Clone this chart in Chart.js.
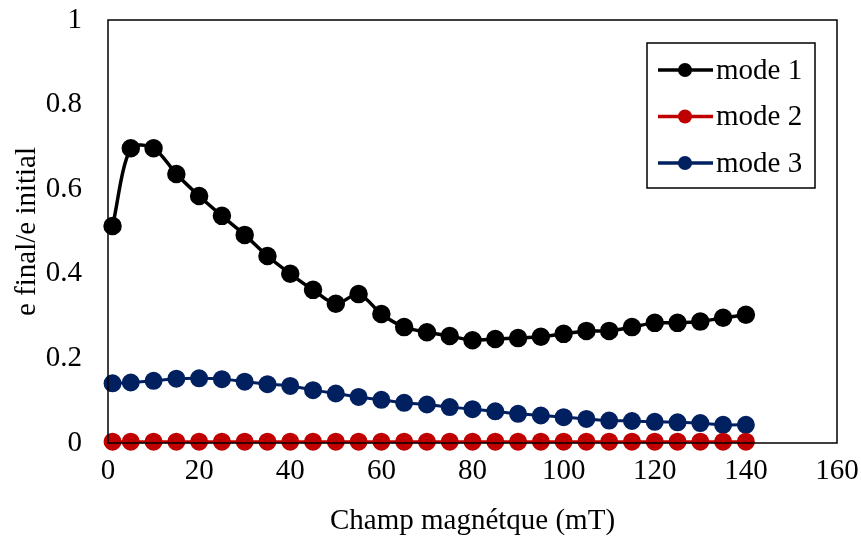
<!DOCTYPE html>
<html>
<head>
<meta charset="utf-8">
<script src="https://cdn.jsdelivr.net/npm/chart.js@4/dist/chart.umd.min.js"></script>
<style>
  html, body { margin: 0; padding: 0; background: #fff; }
  #wrap { width: 861px; height: 536px; }
</style>
</head>
<body>
<div id="wrap"><canvas id="chart" width="861" height="536"></canvas></div>
<script>
// Data
const fieldValues = [1, 5, 10, 15, 20, 25, 30, 35, 40, 45, 50, 55, 60, 65, 70, 75, 80, 85, 90, 95, 100, 105, 110, 115, 120, 125, 130, 135, 140];
const mode1 = [0.513, 0.697, 0.697, 0.636, 0.584, 0.537, 0.492, 0.442, 0.400, 0.362, 0.329, 0.352, 0.305, 0.274, 0.262, 0.253, 0.243, 0.246, 0.248, 0.251, 0.258, 0.265, 0.265, 0.274, 0.284, 0.284, 0.287, 0.296, 0.303];
const mode2 = [0.003, 0.003, 0.003, 0.003, 0.003, 0.003, 0.003, 0.003, 0.003, 0.003, 0.003, 0.003, 0.003, 0.003, 0.003, 0.003, 0.003, 0.003, 0.003, 0.003, 0.003, 0.003, 0.003, 0.003, 0.003, 0.003, 0.003, 0.003, 0.003];
const mode3 = [0.141, 0.143, 0.147, 0.152, 0.153, 0.151, 0.145, 0.139, 0.135, 0.125, 0.117, 0.109, 0.102, 0.095, 0.091, 0.085, 0.080, 0.075, 0.069, 0.065, 0.061, 0.057, 0.053, 0.052, 0.050, 0.049, 0.047, 0.043, 0.043];
const seriesLabels = ["mode 1", "mode 2", "mode 3"];
const seriesColors = ["#000000", "#C00000", "#002060"];
const xTitle = "Champ magnétque (mT)";
const yTitle = "e final/e initial";

const FONT = "'Liberation Serif', 'Times New Roman', serif";
const FONT_SIZE = 29;

function toPoints(values) {
  return values.map((v, i) => ({ x: fieldValues[i], y: v }));
}

// Frame around the plot area
const framePlugin = {
  id: "frame",
  afterDraw(chart) {
    const a = chart.chartArea;
    const ctx = chart.ctx;
    ctx.save();
    ctx.strokeStyle = "#000";
    ctx.lineWidth = 1.5;
    ctx.strokeRect(a.left, a.top, a.right - a.left, a.bottom - a.top);
    ctx.restore();
  },
};

// Boxed legend inside the plot area
const boxLegendPlugin = {
  id: "boxLegend",
  afterDraw(chart) {
    const ctx = chart.ctx;
    const x0 = 647, y0 = 43, w = 168, h = 145;
    ctx.save();
    ctx.fillStyle = "#fff";
    ctx.fillRect(x0, y0, w, h);
    ctx.strokeStyle = "#000";
    ctx.lineWidth = 1.5;
    ctx.strokeRect(x0, y0, w, h);
    chart.data.datasets.forEach((ds, i) => {
      const y = 70 + i * 46.5;
      ctx.strokeStyle = ds.borderColor;
      ctx.lineWidth = 3.5;
      ctx.beginPath();
      ctx.moveTo(658, y);
      ctx.lineTo(713, y);
      ctx.stroke();
      ctx.fillStyle = ds.backgroundColor;
      ctx.beginPath();
      ctx.arc(685, y, 7, 0, Math.PI * 2);
      ctx.fill();
      ctx.fillStyle = "#000";
      ctx.font = FONT_SIZE + "px " + FONT;
      ctx.textBaseline = "middle";
      ctx.textAlign = "left";
      ctx.fillText(ds.label, 716, y + 1);
    });
    ctx.restore();
  },
};

const datasets = [mode1, mode2, mode3].map((vals, i) => ({
  label: seriesLabels[i],
  data: toPoints(vals),
  borderColor: seriesColors[i],
  backgroundColor: seriesColors[i],
  pointBackgroundColor: seriesColors[i],
  pointBorderColor: seriesColors[i],
  borderWidth: i === 0 ? 3.5 : 3,
  pointRadius: 7.5,
  pointHoverRadius: 7.5,
  tension: 0.3,
  clip: false,
}));

new Chart(document.getElementById("chart"), {
  type: "line",
  data: { datasets: datasets },
  options: {
    responsive: false,
    animation: false,
    events: [],
    layout: { autoPadding: false, padding: { left: 0, right: 24, top: 20, bottom: 0 } },
    plugins: {
      legend: { display: false },
      tooltip: { enabled: false },
    },
    scales: {
      x: {
        type: "linear",
        min: 0,
        max: 160,
        grid: { display: false, drawTicks: false },
        border: { display: false },
        ticks: {
          stepSize: 20,
          padding: 11,
          color: "#000",
          maxRotation: 0,
          font: { family: FONT, size: FONT_SIZE },
        },
        title: {
          display: true,
          text: xTitle,
          color: "#000",
          font: { family: FONT, size: FONT_SIZE },
          padding: { top: 0, bottom: -3 },
        },
        afterFit(scale) {
          scale.height = 93;
          scale.paddingLeft = 0;
          scale.paddingRight = 0;
        },
      },
      y: {
        min: 0,
        max: 1,
        grid: { display: false, drawTicks: false },
        border: { display: false },
        ticks: {
          stepSize: 0.2,
          padding: 26,
          color: "#000",
          font: { family: FONT, size: FONT_SIZE },
          callback: (v) => String(Math.round(v * 10) / 10),
        },
        title: {
          display: true,
          text: yTitle,
          color: "#000",
          font: { family: FONT, size: FONT_SIZE },
          padding: { top: 10, bottom: 0 },
        },
        afterFit(scale) {
          scale.width = 108;
          scale.paddingTop = 0;
          scale.paddingBottom = 0;
        },
      },
    },
  },
  plugins: [framePlugin, boxLegendPlugin],
});
</script>
</body>
</html>
